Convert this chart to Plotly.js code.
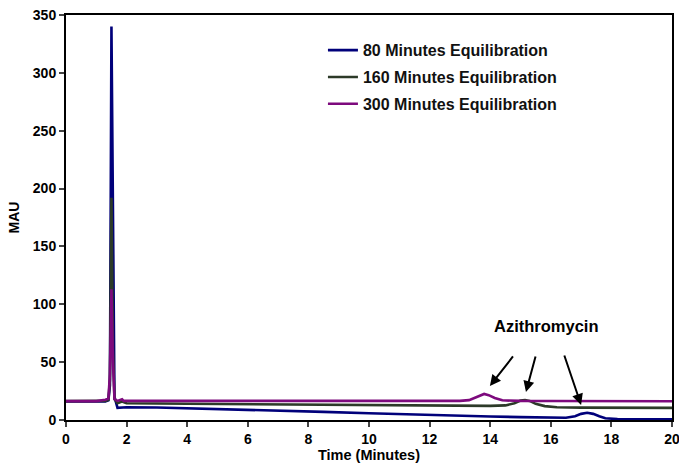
<!DOCTYPE html>
<html>
<head>
<meta charset="utf-8">
<script src="https://cdn.plot.ly/plotly-3.0.1.min.js"></script>
<style>html,body{margin:0;padding:0;background:#fff;}#chart{width:679px;height:465px;}</style>
</head>
<body>
<div id="chart"></div>
<script>
// 80 Minutes Equilibration
const t80 = [0, 1, 1.3, 1.4, 1.45, 1.5, 1.55, 1.6, 1.7, 1.85, 2, 3, 4.4, 6, 8.5, 10, 12.7, 14, 15, 16, 16.5, 16.8, 17, 17.2, 17.4, 17.6, 17.8, 18.2, 19, 20];
const v80 = [16, 15.5, 16, 17, 30, 340, 150, 20, 10.5, 10.8, 11, 10.8, 10, 9, 7, 5.8, 3.6, 3, 2.5, 2, 2, 3.3, 5.3, 6.3, 5.3, 3.2, 1.5, 0.8, 0.6, 0.5];
// 160 Minutes Equilibration
const t160 = [0, 1, 1.3, 1.4, 1.45, 1.5, 1.55, 1.6, 1.7, 1.85, 2, 4, 8, 12, 14, 14.5, 14.8, 15.0, 15.15, 15.3, 15.5, 15.8, 16.2, 17, 20];
const v160 = [16.3, 16, 16.5, 17.5, 35, 192, 60, 18, 14.5, 16, 14.5, 14, 13.2, 12.5, 12.2, 12.6, 14.5, 16.8, 17.3, 16.5, 14, 12, 11, 10.7, 10.5];
// 300 Minutes Equilibration
const t300 = [0, 1, 1.3, 1.4, 1.45, 1.5, 1.55, 1.6, 1.7, 1.85, 1.9, 2, 3, 6, 10, 13, 13.3, 13.5, 13.7, 13.8, 13.95, 14.15, 14.4, 14.7, 15, 16, 20];
const v300 = [16.3, 16.3, 17.5, 18.5, 40, 113, 50, 18, 16.5, 18, 16.5, 16.5, 17, 16.7, 16.5, 16.5, 17.2, 19.5, 22, 22.5, 21.5, 19, 17, 16.5, 16.5, 16.4, 16.2];

const seriesNames = ["80 Minutes Equilibration", "160 Minutes Equilibration", "300 Minutes Equilibration"];
const xTicks = [0, 2, 4, 6, 8, 10, 12, 14, 16, 18, 20];
const yTicks = [0, 50, 100, 150, 200, 250, 300, 350];

// annotation arrows: [headX, headY, tailX, tailY]
const arrows = [[13.99, 29.4, 14.79, 56.2], [15.18, 24.2, 15.51, 56.2], [17.0, 13, 16.43, 57]];
const labelText = "Azithromycin";
const labelPos = [15.85, 81];

const F = "Liberation Sans, Arial, sans-serif";
const colors = ["#00007a", "#2c3a28", "#7d0a7d"];

const traces = [[t80, v80], [t160, v160], [t300, v300]].map((d, i) => ({
  x: d[0], y: d[1], type: "scatter", mode: "lines", name: seriesNames[i],
  legendgroup: "g" + i,
  line: {color: colors[i], width: 2.6}
}));

const annotations = arrows.map(a => ({
  x: a[0], y: a[1], ax: a[2], ay: a[3], xref: "x", yref: "y", axref: "x", ayref: "y",
  text: "", showarrow: true, arrowhead: 2, arrowsize: 1.1, arrowwidth: 2, arrowcolor: "#000"
}));
annotations.push({
  x: labelPos[0], y: labelPos[1], xref: "x", yref: "y", text: labelText, showarrow: false,
  font: {family: F, size: 16.5, color: "#000", weight: "bold"}
});

const layout = {
  width: 679, height: 465,
  margin: {l: 66, r: 7, t: 15, b: 45},
  paper_bgcolor: "#fff", plot_bgcolor: "#fff",
  showlegend: true,
  legend: {x: 0.424, y: 0.955, xanchor: "left", yanchor: "top", traceorder: "grouped", tracegroupgap: 3,
    font: {family: F, size: 16, color: "#111", weight: "bold"}, bgcolor: "rgba(0,0,0,0)"},
  xaxis: {range: [0, 20], tickvals: xTicks, ticktext: xTicks.map(String), ticks: "outside", ticklen: 5, tickwidth: 2,
    ticklabeloverflow: "allow",
    showline: true, linewidth: 2, linecolor: "#000", mirror: true, showgrid: false, zeroline: false,
    tickfont: {family: F, size: 14, color: "#000", weight: "bold"},
    title: {text: "Time (Minutes)", standoff: 2, font: {family: F, size: 14.5, color: "#000", weight: "bold"}}},
  yaxis: {range: [0, 350], tickvals: yTicks, ticktext: yTicks.map(String), ticks: "outside", ticklen: 5, tickwidth: 2,
    showline: true, linewidth: 2, linecolor: "#000", mirror: true, showgrid: false, zeroline: false,
    tickfont: {family: F, size: 14, color: "#000", weight: "bold"},
    title: {text: "MAU", standoff: 10, font: {family: F, size: 14, color: "#000", weight: "bold"}}},
  annotations: annotations
};

Plotly.newPlot("chart", traces, layout, {displayModeBar: false, staticPlot: true});
</script>
</body>
</html>
